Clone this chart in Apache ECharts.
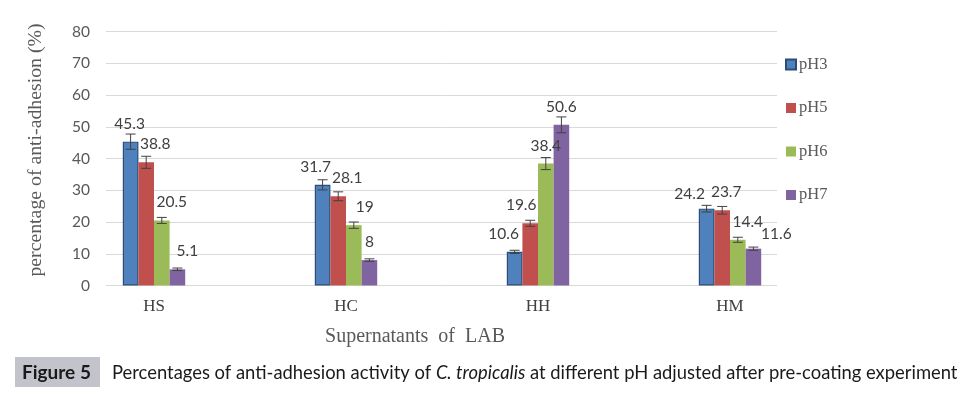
<!DOCTYPE html>
<html>
<head>
<meta charset="utf-8">
<script src="https://cdn.jsdelivr.net/npm/echarts@6/dist/echarts.min.js"></script>
<style>
  html, body { margin: 0; padding: 0; background: #fff; }
  #chart { width: 967px; height: 396px; }
</style>
</head>
<body>
<div id="chart"></div>
<script>
// data
var categories = ['HS', 'HC', 'HH', 'HM'];
var seriesNames = ['pH3', 'pH5', 'pH6', 'pH7'];
var pH3 = [45.3, 31.7, 10.6, 24.2];
var pH5 = [38.8, 28.1, 19.6, 23.7];
var pH6 = [20.5, 19, 38.4, 14.4];
var pH7 = [5.1, 8, 50.6, 11.6];
var err3 = [2.4, 1.6, 0.5, 1.05];
var err5 = [1.9, 1.4, 0.95, 1.2];
var err6 = [0.95, 1.0, 1.9, 0.8];
var err7 = [0.4, 0.4, 2.5, 0.5];
var yTicks = [0, 10, 20, 30, 40, 50, 60, 70, 80];

var values = [pH3, pH5, pH6, pH7];
var errors = [err3, err5, err6, err7];
var colors = ['#4F81BD', '#C0504D', '#9BBB59', '#8064A2'];

// label nudges (px) so labels sit like in the original, [dx, dy] per series / category
var labelNudge = [
  [[-1, 0], [-7, 0], [-11, 0], [-17, 3]],
  [[9, 0], [9, 0], [-9, 0], [4, 0]],
  [[10, 0], [11, 0], [0, 0], [10, 0]],
  [[10, 0], [0, 0], [0, 0], [23, 3]]
];

var BAR_W = 15.6;
var sans = 'Lato';
var serif = 'Liberation Serif';

var chart = echarts.init(document.getElementById('chart'));

var series = [];
seriesNames.forEach(function (name, s) {
  series.push({
    name: name,
    type: 'bar',
    xAxisIndex: 1,
    yAxisIndex: 1,
    barWidth: BAR_W,
    barGap: '0%',
    itemStyle: s === 0 ? {color: colors[s], borderColor: '#2C4D75', borderWidth: 1.2} : {color: colors[s]},
    data: values[s].map(function (v, c) {
      return {
        value: v,
        label: {offset: [labelNudge[s][c][0], labelNudge[s][c][1]]}
      };
    }),
    label: {
      show: true,
      position: 'top',
      distance: 10,
      color: '#404040',
      fontFamily: sans,
      fontSize: 15.5
    }
  });
});

// error bars
var errData = [];
values.forEach(function (arr, s) {
  arr.forEach(function (v, c) {
    errData.push([c, s, v, errors[s][c]]);
  });
});

series.push({
  type: 'custom',
  xAxisIndex: 1,
  yAxisIndex: 1,
  z: 5,
  encode: {x: 0, y: 2},
  data: errData,
  renderItem: function (params, api) {
    var c = api.value(0), s = api.value(1), v = api.value(2), e = api.value(3);
    var hi = api.coord([c, v + e]);
    var lo = api.coord([c, v - e]);
    var x = hi[0] + (s - 1.5) * BAR_W;
    var cap = 5;
    var st = {stroke: '#404040', lineWidth: 1};
    return {
      type: 'group',
      children: [
        {type: 'line', shape: {x1: x, y1: hi[1], x2: x, y2: lo[1]}, style: st},
        {type: 'line', shape: {x1: x - cap, y1: hi[1], x2: x + cap, y2: hi[1]}, style: st},
        {type: 'line', shape: {x1: x - cap, y1: lo[1], x2: x + cap, y2: lo[1]}, style: st}
      ]
    };
  }
});

chart.setOption({
  animation: false,
  grid: [
    {left: 106, top: 31.5, width: 671, height: 254},
    {left: 58, top: 31.5, width: 768, height: 254}
  ],
  legend: {
    data: seriesNames,
    orient: 'vertical',
    left: 785,
    top: 56,
    padding: 0,
    icon: 'rect',
    itemWidth: 10,
    itemHeight: 10,
    itemGap: 26.5,
    textStyle: {fontFamily: serif, fontSize: 16.5, color: '#595959', padding: [0, 0, 0, -2]}
  },
  xAxis: [
    {type: 'value', gridIndex: 0, show: false, min: 0, max: 1},
    {
      type: 'category',
      gridIndex: 1,
      data: categories,
      axisLine: {show: false},
      axisTick: {show: false},
      axisLabel: {fontFamily: serif, fontSize: 17, color: '#404040', margin: 13}
    }
  ],
  yAxis: [
    {
      type: 'value',
      gridIndex: 0,
      min: yTicks[0],
      max: yTicks[yTicks.length - 1],
      interval: yTicks[1] - yTicks[0],
      axisLine: {show: false},
      axisTick: {show: false},
      axisLabel: {fontFamily: sans, fontSize: 15.5, color: '#595959', margin: 16},
      splitLine: {lineStyle: {color: '#D9D9D9', width: 1}}
    },
    {
      type: 'value',
      gridIndex: 1,
      min: yTicks[0],
      max: yTicks[yTicks.length - 1],
      show: false,
      splitLine: {show: false}
    }
  ],
  graphic: [
    {
      type: 'text',
      x: 36,
      y: 150,
      rotation: Math.PI / 2,
      style: {
        text: 'percentage of anti-adhesion (%)',
        fontFamily: serif,
        fontSize: 19.8,
        fill: '#595959',
        align: 'center',
        verticalAlign: 'middle'
      }
    },
    {
      type: 'text',
      x: 415,
      y: 337,
      style: {
        text: 'Supernatants  of  LAB',
        fontFamily: serif,
        fontSize: 20,
        fill: '#595959',
        align: 'center',
        verticalAlign: 'middle'
      }
    },
    {
      type: 'rect',
      shape: {x: 15, y: 357, width: 85, height: 30},
      style: {fill: '#C3C3CB'}
    },
    {
      type: 'text',
      x: 22,
      y: 373,
      style: {
        text: 'Figure 5',
        fontFamily: sans,
        fontWeight: 'bold',
        fontSize: 19,
        fill: '#1a1a1a',
        verticalAlign: 'middle'
      }
    },
    {
      type: 'text',
      x: 112,
      y: 373,
      style: {
        text: '{n|Percentages of anti-adhesion activity of }{i|C. tropicalis}{n| at different pH adjusted after pre-coating experiment}',
        verticalAlign: 'middle',
        rich: {
          n: {fontFamily: sans, fontSize: 18.4, fill: '#1a1a1a', color: '#1a1a1a'},
          i: {fontFamily: sans, fontSize: 18.4, fontStyle: 'italic', fill: '#1a1a1a', color: '#1a1a1a'}
        }
      }
    }
  ],
  series: series
});
</script>
</body>
</html>
